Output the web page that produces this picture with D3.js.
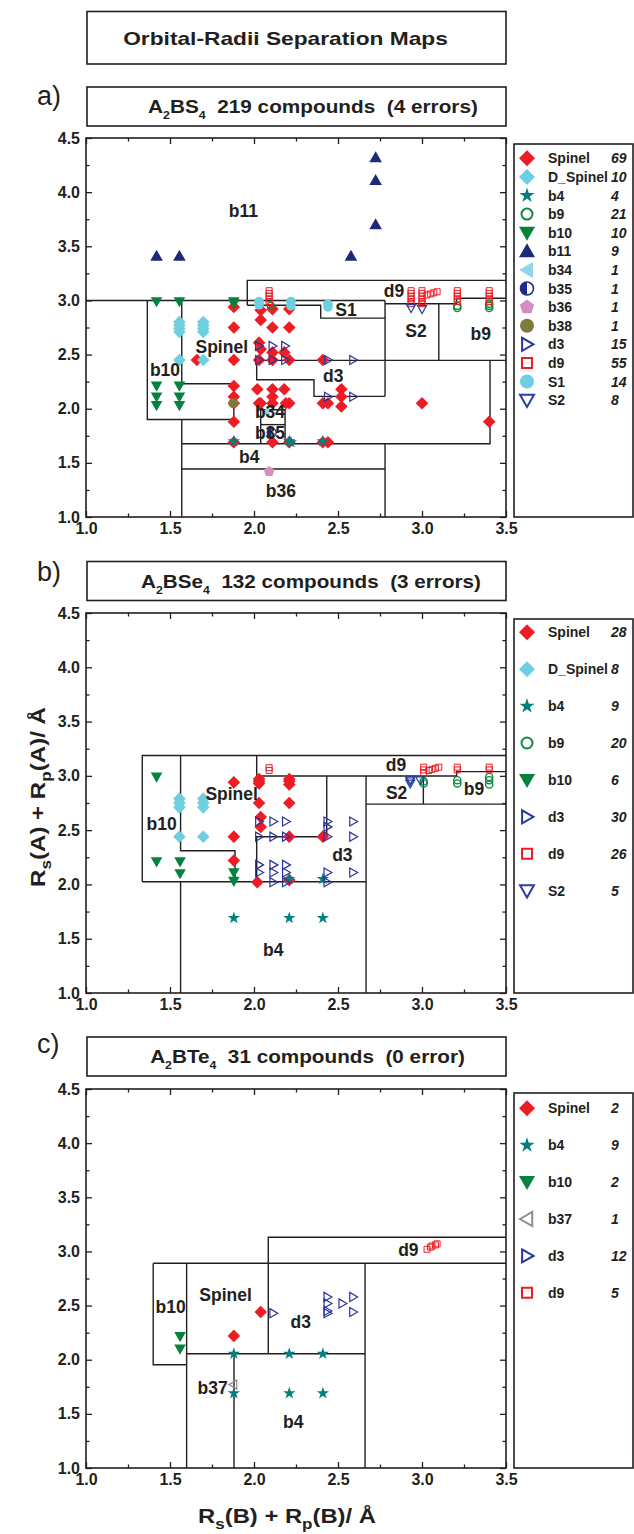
<!DOCTYPE html>
<html>
<head>
<meta charset="utf-8">
<script src="https://cdn.jsdelivr.net/npm/d3@7"></script>
<style>
body { margin: 0; background: #fff; }
text { font-family: "Liberation Sans", Arial, sans-serif; }
</style>
</head>
<body>
<div id="app"></div>
<script>
// axis ticks
const xMajor = [1.0, 1.5, 2.0, 2.5, 3.0, 3.5]
const xMinor = [1.25, 1.75, 2.25, 2.75, 3.25]
const yMajor = [1.0, 1.5, 2.0, 2.5, 3.0, 3.5, 4.0, 4.5]
const yMinor = [1.25, 1.75, 2.25, 2.75, 3.25, 3.75, 4.25]

// ---- panel a : A2BS4 ----
const aSpinel = [[1.88,2.94],[1.88,2.75],[1.88,2.45],[1.88,2.21],[1.88,2.11],[1.88,2.05],[1.88,1.88],[1.88,1.69],
  [2.04,2.91],[2.04,2.82],[2.03,2.61],[2.04,2.55],[2.03,2.45],[2.02,2.18],[2.03,2.05],[2.04,2.05],
  [2.11,2.92],[2.11,2.75],[2.11,2.52],[2.11,2.45],[2.11,2.18],[2.11,2.11],[2.11,2.05],[2.11,1.69],
  [2.18,2.52],[2.18,2.18],[2.19,2.05],[2.21,2.05],[2.21,2.92],[2.21,2.75],[2.21,2.45],[2.21,1.69],
  [1.66,2.45],[2.41,2.45],[2.41,2.05],[2.41,1.69],[2.44,2.05],[2.44,1.69],
  [2.52,2.18],[2.52,2.11],[2.52,2.02],[3.0,2.05],[3.4,1.88]]
const aDSpinel = [[1.556,2.80],[1.556,2.77],[1.556,2.74],[1.556,2.71],[1.698,2.80],[1.698,2.77],[1.698,2.74],[1.698,2.71],[1.556,2.45],[1.698,2.45]]
const aB4 = [[1.88,1.70],[2.21,1.70],[2.41,1.70],[2.22,1.69]]
const aB9 = [[2.10,2.95],[3.21,2.95],[3.21,2.93],[3.40,2.97],[3.40,2.95],[3.40,2.93]]
const aB10 = [[1.42,2.99],[1.556,2.99],[1.88,2.99],[1.88,2.97],[1.42,2.21],[1.42,2.11],[1.42,2.03],[1.556,2.21],[1.556,2.11],[1.556,2.03]]
const aB11 = [[1.42,3.41],[1.556,3.41],[2.577,3.41],[2.724,4.32],[2.724,4.11],[2.724,3.70]]
const aB34 = [[2.07,1.97]]
const aB35 = [[2.105,1.78]]
const aB36 = [[2.09,1.42]]
const aB38 = [[1.877,2.05]]
const aD3 = [[2.03,2.58],[2.11,2.58],[2.185,2.58],[2.03,2.45],[2.11,2.45],[2.185,2.45],[2.44,2.45],[2.59,2.45],[2.44,2.11],[2.59,2.11]]
const aD9 = [[2.09,3.09],[2.09,3.065],[2.09,3.04],[2.09,3.015],[2.09,2.99],
  [2.935,3.09],[2.935,3.065],[2.935,3.04],[2.935,3.015],[2.935,2.99],[2.935,2.97],
  [3.0,3.09],[3.0,3.065],[3.0,3.04],[3.0,3.015],[3.0,2.99],[3.0,2.97],
  [3.03,3.05],[3.05,3.06],[3.07,3.07],[3.09,3.08],
  [3.21,3.09],[3.21,3.065],[3.21,3.04],[3.21,3.015],[3.21,2.99],
  [3.40,3.09],[3.40,3.065],[3.40,3.04],[3.40,3.015],[3.40,2.99]]
const aS1 = [[2.03,2.99],[2.03,2.96],[2.22,2.99],[2.22,2.95],[2.44,2.965],[2.44,2.94]]
const aS2 = [[2.935,2.93],[3.00,2.92]]
const aNames = ['Spinel','D_Spinel','b4','b9','b10','b11','b34','b35','b36','b38','d3','d9','S1','S2']
const aCounts = [69, 10, 4, 21, 10, 9, 1, 1, 1, 1, 15, 55, 14, 8]
const aLines = [
  [[1.0,3.0],[2.78,3.0]],
  [[1.96,2.955],[1.96,3.185],[3.5,3.185]],
  [[1.96,2.955],[2.397,2.955],[2.397,2.837],[2.78,2.837]],
  [[2.78,3.0],[2.78,2.114]],
  [[2.78,2.97],[3.206,2.97],[3.206,3.02],[3.5,3.02]],
  [[3.10,2.97],[3.10,2.446]],
  [[2.016,2.446],[3.5,2.446]],
  [[2.016,2.446],[2.016,2.268],[2.357,2.268],[2.357,2.114],[2.78,2.114]],
  [[3.405,2.446],[3.405,1.677],[1.57,1.677]],
  [[1.365,3.0],[1.365,1.90],[1.88,1.90],[1.88,2.23],[1.57,2.23],[1.57,3.0]],
  [[1.57,1.90],[1.57,1.0]],
  [[2.04,1.677],[2.04,1.99],[2.185,1.99],[2.185,1.677]],
  [[2.04,1.853],[2.185,1.853]],
  [[1.57,1.443],[2.78,1.443]],
  [[2.78,1.677],[2.78,1.0]]
]
const aLabels = [['b11',1.937,3.83],['d9',2.833,3.083],['S1',2.548,2.914],['S2',2.964,2.72],['b9',3.35,2.69],
  ['Spinel',1.808,2.57],['b10',1.47,2.354],['d3',2.472,2.30],['b34',2.095,1.966],['b35',2.095,1.775],
  ['b4',1.972,1.554],['b36',2.16,1.237]]

// ---- panel b : A2BSe4 ----
const bSpinel = [[1.88,2.94],[2.03,2.97],[2.03,2.95],[2.03,2.93],[2.21,2.97],[2.21,2.95],[2.21,2.92],[2.03,2.75],[2.21,2.75],
  [2.04,2.62],[2.04,2.53],[1.88,2.44],[2.21,2.44],[2.41,2.44],[1.88,2.22],[2.02,2.02],[2.21,2.04]]
const bDSpinel = [[1.556,2.79],[1.556,2.75],[1.556,2.71],[1.698,2.79],[1.698,2.75],[1.698,2.71],[1.556,2.44],[1.698,2.44]]
const bB4 = [[1.88,1.69],[2.21,1.69],[2.41,1.69],[2.21,2.05],[2.41,2.05]]
const bB9 = [[3.01,2.95],[3.01,2.93],[3.21,2.96],[3.21,2.93],[3.40,2.99],[3.40,2.96],[3.40,2.92]]
const bB10 = [[1.42,2.99],[1.42,2.21],[1.56,2.21],[1.56,2.10],[1.88,2.11],[1.88,2.03]]
const bD3 = [[2.03,2.58],[2.115,2.58],[2.19,2.58],[2.437,2.58],[2.437,2.53],[2.59,2.58],
  [2.03,2.44],[2.115,2.44],[2.19,2.44],[2.437,2.44],[2.59,2.44],
  [2.03,2.18],[2.115,2.18],[2.19,2.18],[2.03,2.11],[2.115,2.11],[2.19,2.11],
  [2.115,2.02],[2.19,2.02],[2.437,2.11],[2.437,2.02],[2.59,2.11]]
const bD9 = [[2.09,3.075],[2.09,3.05],[3.01,3.08],[3.01,3.055],[3.01,3.03],[3.04,3.05],[3.06,3.06],[3.08,3.07],[3.10,3.08],
  [3.21,3.08],[3.21,3.055],[3.40,3.08],[3.40,3.055]]
const bS2 = [[2.93,2.965],[2.93,2.95],[2.93,2.93],[2.99,2.96]]
const bNames = ['Spinel','D_Spinel','b4','b9','b10','d3','d9','S2']
const bCounts = [28, 8, 9, 20, 6, 30, 26, 5]
const bLines = [
  [[1.335,2.024],[1.335,3.187],[3.5,3.187]],
  [[1.335,2.024],[2.667,2.024]],
  [[1.563,3.187],[1.563,2.31],[1.887,2.31],[1.887,2.024]],
  [[1.563,2.024],[1.563,1.0]],
  [[2.016,3.187],[2.016,2.999],[3.206,2.999],[3.206,3.039],[3.5,3.039]],
  [[2.433,2.999],[2.433,2.439],[2.016,2.439],[2.016,2.024]],
  [[2.667,2.999],[2.667,1.0]],
  [[2.667,2.74],[3.5,2.74]],
  [[3.008,2.999],[3.008,2.74]]
]
const bLabels = [['d9',2.845,3.10],['Spinel',1.867,2.833],['S2',2.849,2.845],['b9',3.31,2.879],
  ['b10',1.45,2.553],['d3',2.526,2.27],['b4',2.115,1.393]]

// ---- panel c : A2BTe4 ----
const cSpinel = [[2.04,2.44],[1.88,2.22]]
const cB4 = [[1.88,2.055],[2.21,2.055],[2.41,2.055],[1.88,1.69],[2.21,1.69],[2.41,1.69]]
const cB10 = [[1.56,2.215],[1.56,2.10]]
const cB37 = [[1.877,1.77]]
const cD3 = [[2.115,2.43],[2.437,2.58],[2.437,2.52],[2.437,2.45],[2.437,2.43],[2.526,2.52],[2.59,2.58],[2.59,2.44]]
const cD9 = [[3.03,3.02],[3.05,3.04],[3.06,3.05],[3.08,3.06],[3.09,3.07]]
const cNames = ['Spinel','b4','b10','b37','d3','d9']
const cCounts = [2, 9, 2, 1, 12, 5]
const cLines = [
  [[1.40,2.891],[3.5,2.891]],
  [[1.40,2.891],[1.40,1.953],[1.599,1.953]],
  [[1.599,2.891],[1.599,1.0]],
  [[2.085,2.055],[2.085,3.131],[3.5,3.131]],
  [[1.599,2.055],[2.661,2.055]],
  [[2.661,2.891],[2.661,1.0]],
  [[1.881,2.055],[1.881,1.0]]
]
const cLabels = [['d9',2.919,3.014],['Spinel',1.831,2.599],['b10',1.504,2.491],['d3',2.278,2.344],
  ['b37',1.754,1.738],['b4',2.234,1.421]]

// marker look for every class: shape, fill, stroke, plot size, legend size
const style = {
  Spinel:   { shape: 'diamond', fill: '#ee1c25', stroke: 'none', r: 6.3, lr: 8 },
  D_Spinel: { shape: 'diamond', fill: '#6dcfdf', stroke: 'none', r: 6.3, lr: 8 },
  b4:       { shape: 'star', fill: '#00807f', stroke: 'none', r: 6.5, lr: 8 },
  b9:       { shape: 'circle', fill: 'none', stroke: '#0d8a3f', r: 3.6, lr: 5.5, sw: 1.4, lsw: 2 },
  b10:      { shape: 'down', fill: '#05823d', stroke: 'none', r: 5.8, lr: 8 },
  b11:      { shape: 'up', fill: '#1e2a78', stroke: 'none', r: 6.3, lr: 8 },
  b34:      { shape: 'left', fill: '#93d5e8', stroke: 'none', r: 5, lr: 8 },
  b35:      { shape: 'half', fill: '#fff', stroke: '#1e2a8a', r: 4.5, lr: 6.5, sw: 1.3, lsw: 1.6 },
  b36:      { shape: 'pentagon', fill: '#d78dc2', stroke: 'none', r: 5.5, lr: 7.5 },
  b38:      { shape: 'circle', fill: '#7e7b38', stroke: 'none', r: 5, lr: 7 },
  b37:      { shape: 'left', fill: 'none', stroke: '#8c8c8c', r: 4.5, lr: 7, sw: 1.2, lsw: 2 },
  d3:       { shape: 'right', fill: 'none', stroke: '#27349b', r: 4.5, lr: 6.5, sw: 1.2, lsw: 2 },
  d9:       { shape: 'square', fill: 'none', stroke: '#ee1c25', r: 3, lr: 5, sw: 1, lsw: 2 },
  S1:       { shape: 'circle', fill: '#6dcfdf', stroke: 'none', r: 4.8, lr: 7 },
  S2:       { shape: 'down', fill: 'none', stroke: '#2a3f9f', r: 4.5, lr: 7, sw: 1.2, lsw: 2 }
}

function shape(type, r) {
  switch (type) {
    case 'diamond': return `M0,${-r}L${r},0L0,${r}L${-r},0Z`
    case 'square': return `M${-r},${-r}H${r}V${r}H${-r}Z`
    case 'up': return `M0,${-r}L${r},${r*0.75}L${-r},${r*0.75}Z`
    case 'down': return `M0,${r}L${r},${-r*0.75}L${-r},${-r*0.75}Z`
    case 'right': return `M${r},0L${-r*0.75},${-r}L${-r*0.75},${r}Z`
    case 'left': return `M${-r},0L${r*0.75},${-r}L${r*0.75},${r}Z`
    case 'star': return d3.symbol(d3.symbolStar, r * r * 1.12)()
    case 'pentagon': {
      const pts = d3.range(5).map(i => {
        const a = -Math.PI / 2 + i * 2 * Math.PI / 5
        return [r * Math.cos(a), r * Math.sin(a)]
      })
      return 'M' + pts.join('L') + 'Z'
    }
    default: return d3.symbol(d3.symbolCircle, Math.PI * r * r)()
  }
}

function drawMarker(g, name, px, py, legend) {
  const st = style[name]
  const r = legend ? st.lr : st.r
  const m = g.append('g').attr('transform', `translate(${px},${py})`)
  m.append('path')
    .attr('d', shape(st.shape, r))
    .attr('fill', st.fill)
    .attr('stroke', st.stroke)
    .attr('stroke-width', legend ? (st.lsw || 1) : (st.sw || 1))
  if (st.shape === 'half') {
    m.append('path')
      .attr('d', `M0,${-r}A${r},${r} 0 0 0 0,${r}Z`)
      .attr('fill', st.stroke)
  }
}

// text with subscript parts
function rich(sel, parts, subSize, shift) {
  let down = 0
  parts.forEach(p => {
    const isSub = p[1] === 'sub'
    const t = sel.append('tspan').text(p[0])
    const want = isSub ? shift : 0
    t.attr('dy', want - down)
    if (isSub) t.attr('font-size', subSize)
    down = want
  })
}

// stretch a text horizontally so it spans the given width
function fit(g, text, width, base) {
  const w = text.node().getBBox().width
  g.attr('transform', base + ` scale(${width / w},1)`)
}

const W = 634, H = 1534
const ink = '#231f20'
const svg = d3.select('#app').append('svg')
  .attr('width', W).attr('height', H)
  .style('display', 'block')

svg.append('rect').attr('width', W).attr('height', H).attr('fill', '#fff')

// main title box
svg.append('rect').attr('x', 87).attr('y', 11.5).attr('width', 419).attr('height', 52.5)
  .attr('fill', 'none').attr('stroke', ink).attr('stroke-width', 1.6)
const mtg = svg.append('g')
const mt = mtg.append('text').attr('text-anchor', 'middle')
  .attr('font-size', 18.5).attr('font-weight', 'bold').attr('fill', ink)
  .text('Orbital-Radii Separation Maps')
fit(mtg, mt, 325, 'translate(285.5,44.5)')

const panels = [
  { top: 138, bottom: 517, letter: 'a)', letterY: 105, boxTop: 87, boxBottom: 126, titleX: 313, titleW: 330,
    title: [['A'],['2','sub'],['BS'],['4','sub'],['  219 compounds  (4 errors)']],
    lines: aLines, labels: aLabels,
    series: [['Spinel',aSpinel],['D_Spinel',aDSpinel],['b4',aB4],['b9',aB9],['b10',aB10],['b11',aB11],
      ['b34',aB34],['b35',aB35],['b36',aB36],['b38',aB38],['d3',aD3],['d9',aD9],['S1',aS1],['S2',aS2]],
    names: aNames, counts: aCounts, legTop: 144, legFirst: 158.3, legStep: 18.6 },
  { top: 613, bottom: 993, letter: 'b)', letterY: 581, boxTop: 561.5, boxBottom: 600.5, titleX: 311, titleW: 340,
    title: [['A'],['2','sub'],['BSe'],['4','sub'],['  132 compounds  (3 errors)']],
    lines: bLines, labels: bLabels,
    series: [['Spinel',bSpinel],['D_Spinel',bDSpinel],['b4',bB4],['b9',bB9],['b10',bB10],['d3',bD3],['d9',bD9],['S2',bS2]],
    names: bNames, counts: bCounts, legTop: 619, legFirst: 632.3, legStep: 36.9 },
  { top: 1089, bottom: 1468, letter: 'c)', letterY: 1053, boxTop: 1037, boxBottom: 1076, titleX: 307.5, titleW: 315,
    title: [['A'],['2','sub'],['BTe'],['4','sub'],['  31 compounds  (0 error)']],
    lines: cLines, labels: cLabels,
    series: [['Spinel',cSpinel],['b4',cB4],['b10',cB10],['b37',cB37],['d3',cD3],['d9',cD9]],
    names: cNames, counts: cCounts, legTop: 1093, legFirst: 1108.3, legStep: 36.9 }
]

panels.forEach(p => {
  const x = d3.scaleLinear().domain([1.0, 3.5]).range([86, 506])
  const y = d3.scaleLinear().domain([1.0, 4.5]).range([p.bottom, p.top])
  const g = svg.append('g')

  // panel letter and title box
  g.append('text').attr('x', 37).attr('y', p.letterY)
    .attr('font-size', 27).attr('fill', ink).text(p.letter)
  g.append('rect').attr('x', 87).attr('y', p.boxTop).attr('width', 419).attr('height', p.boxBottom - p.boxTop)
    .attr('fill', 'none').attr('stroke', ink).attr('stroke-width', 1.6)
  const tg = g.append('g')
  const tt = tg.append('text').attr('text-anchor', 'middle')
    .attr('font-size', 18.5).attr('font-weight', 'bold').attr('fill', ink)
    .style('white-space', 'pre')
  rich(tt, p.title, 11, 6)
  fit(tg, tt, p.titleW, `translate(${p.titleX},${(p.boxTop + p.boxBottom) / 2 + 6.5})`)

  // region boundaries
  const line = d3.line().x(d => x(d[0])).y(d => y(d[1]))
  g.append('g').selectAll('path').data(p.lines).enter().append('path')
    .attr('d', line).attr('fill', 'none').attr('stroke', ink).attr('stroke-width', 1.4)

  // axes: ticks inward on all four sides
  const axes = [
    [d3.axisBottom(x), `translate(0,${p.bottom})`, true],
    [d3.axisTop(x), `translate(0,${p.top})`, false],
    [d3.axisLeft(y), `translate(86,0)`, true],
    [d3.axisRight(y), `translate(506,0)`, false]
  ]
  axes.forEach(([ax, tr, labelled], i) => {
    const isX = i < 2
    g.append('g').attr('transform', tr)
      .call(ax.tickValues(isX ? xMajor : yMajor).tickSize(-6).tickPadding(labelled ? 6 : 0)
        .tickFormat(labelled ? d3.format('.1f') : ''))
      .call(s => s.select('.domain').remove())
      .call(s => s.selectAll('line').attr('stroke', ink).attr('stroke-width', 1.3))
      .call(s => s.selectAll('text').attr('font-size', 16).attr('font-weight', 'bold')
        .attr('fill', ink).attr('font-family', '"Liberation Sans", Arial, sans-serif'))
  })
  const minorAxes = [
    [d3.axisBottom(x), `translate(0,${p.bottom})`],
    [d3.axisTop(x), `translate(0,${p.top})`],
    [d3.axisLeft(y), `translate(86,0)`],
    [d3.axisRight(y), `translate(506,0)`]
  ]
  minorAxes.forEach(([ax, tr], i) => {
    g.append('g').attr('transform', tr)
      .call(ax.tickValues(i < 2 ? xMinor : yMinor).tickSize(-3.5).tickFormat(''))
      .call(s => s.select('.domain').remove())
      .call(s => s.selectAll('line').attr('stroke', ink).attr('stroke-width', 1.3))
  })

  // frame
  g.append('rect').attr('x', 86).attr('y', p.top).attr('width', 420).attr('height', p.bottom - p.top)
    .attr('fill', 'none').attr('stroke', ink).attr('stroke-width', 1.6)

  // markers
  const mg = g.append('g')
  p.series.forEach(([name, pts]) => {
    pts.forEach(d => drawMarker(mg, name, x(d[0]), y(d[1]), false))
  })

  // region labels
  g.append('g').selectAll('text').data(p.labels).enter().append('text')
    .attr('x', d => x(d[1])).attr('y', d => y(d[2]))
    .attr('text-anchor', 'middle').attr('dominant-baseline', 'central')
    .attr('font-size', 17.5).attr('font-weight', 'bold').attr('fill', ink)
    .text(d => d[0])

  // legend
  const lg = g.append('g')
  lg.append('rect').attr('x', 514).attr('y', p.legTop).attr('width', 119).attr('height', p.bottom - p.legTop)
    .attr('fill', 'none').attr('stroke', ink).attr('stroke-width', 1.6)
  p.names.forEach((n, i) => {
    const ly = p.legFirst + i * p.legStep
    drawMarker(lg, n, 527, ly, true)
    lg.append('text').attr('x', 548).attr('y', ly).attr('dominant-baseline', 'central')
      .attr('font-size', 14).attr('font-weight', 'bold').attr('fill', ink).text(n)
    lg.append('text').attr('x', 611).attr('y', ly).attr('dominant-baseline', 'central')
      .attr('font-size', 14).attr('font-weight', 'bold').attr('font-style', 'italic').attr('fill', ink)
      .text(p.counts[i])
  })
})

// axis titles
const ytg = svg.append('g')
const yt = ytg.append('text')
  .attr('text-anchor', 'middle')
  .attr('font-size', 21).attr('font-weight', 'bold').attr('fill', ink)
rich(yt, [['R'],['s','sub'],['(A) + R'],['p','sub'],['(A)/ Å']], 15, 6)
fit(ytg, yt, 180, 'translate(45,797) rotate(-90)')

const xtg = svg.append('g')
const xt = xtg.append('text')
  .attr('text-anchor', 'middle')
  .attr('font-size', 21).attr('font-weight', 'bold').attr('fill', ink)
rich(xt, [['R'],['s','sub'],['(B) + R'],['p','sub'],['(B)/ Å']], 15, 6)
fit(xtg, xt, 178, 'translate(287,1523)')
</script>
</body>
</html>
